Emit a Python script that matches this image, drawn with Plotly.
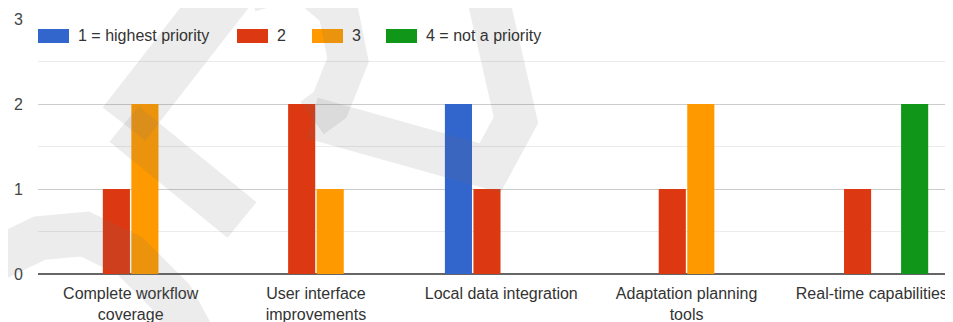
import plotly.graph_objects as go

categories = [
    'Complete workflow<br>coverage',
    'User interface<br>improvements',
    'Local data integration',
    'Adaptation planning<br>tools',
    'Real-time capabilities',
]
series_names = ['1 = highest priority', '2', '3', '4 = not a priority']
priority_1 = [0, 0, 2, 0, 0]
priority_2 = [1, 2, 1, 1, 1]
priority_3 = [2, 1, 0, 2, 0]
priority_4 = [0, 0, 0, 0, 2]
y_ticks = [0, 1, 2, 3]

colors = ['#3366cc', '#dc3912', '#ff9900', '#109618']
series_values = [priority_1, priority_2, priority_3, priority_4]

# page has an 8px body margin, so the figure is a bit smaller and shifted
OFF = 8
W, H = 945, 314
L, T, B = 30, 11, 48


def px(x, y):
    # page pixel position -> paper coords of the plot area
    x, y = x - OFF, y - OFF
    return (x - L) / (W - L), (H - B - y) / (H - B - T)


fig = go.Figure()
for name, vals, col in zip(series_names, series_values, colors):
    fig.add_trace(go.Bar(x=categories, y=vals, name=name, marker_color=col,
                         marker_line_width=0, showlegend=False))

shapes = []
annotations = []

# legend drawn by hand (google-style wide swatches)
legend_x = [38, 237, 312, 386]
for lx, name, col in zip(legend_x, series_names, colors):
    x0, y0 = px(lx, 29)
    x1, y1 = px(lx + 31, 43)
    shapes.append(dict(type='rect', xref='paper', yref='paper', x0=x0, x1=x1,
                       y0=y0, y1=y1, fillcolor=col, line_width=0, layer='above'))
    tx, ty = px(lx + 38, 36)
    annotations.append(dict(text=name, xref='paper', yref='paper', x=tx, y=ty,
                            xanchor='left', yanchor='middle', showarrow=False,
                            font=dict(size=16, color='#333')))


# faint watermark strokes over the chart
def stroke(points, width=46):
    pts = [px(x, y) for x, y in points]
    d = 'M {},{} '.format(*pts[0]) + ' '.join('L {},{}'.format(*p) for p in pts[1:])
    shapes.append(dict(type='path', path=d, xref='paper', yref='paper',
                       line=dict(color='rgba(110,110,110,0.13)', width=width),
                       layer='above'))


stroke([(240, -25), (124, 124)], 54)
stroke([(124, 124), (242, 220)], 46)
stroke([(250, -8), (300, -22), (338, 10), (348, 60), (330, 105), (312, 118)], 40)
stroke([(312, 118), (490, 168), (516, 120), (484, -20)], 42)
stroke([(-10, 262), (40, 238), (85, 234), (130, 256), (172, 298), (195, 340)], 44)

fig.update_layout(
    width=W, height=H,
    margin=dict(l=L, r=0, t=T, b=B),
    plot_bgcolor='white', paper_bgcolor='white',
    font=dict(family='Liberation Sans, Arial, sans-serif', size=16, color='#444'),
    barmode='group', bargap=0.384, bargroupgap=0.05,
    shapes=shapes, annotations=annotations,
    xaxis=dict(range=[-0.5, 4.438], showgrid=False, ticks='', showline=False,
               ticklabelstandoff=8, tickfont=dict(size=16, color='#333')),
    yaxis=dict(range=[0, 3], tickvals=y_ticks, gridcolor='#cccccc', gridwidth=1,
               zeroline=True, zerolinecolor='#666', zerolinewidth=2,
               ticks='', ticklabelstandoff=14, tickfont=dict(size=16, color='#444'),
               minor=dict(dtick=0.5, showgrid=True, gridcolor='#ebebeb')),
    showlegend=False,
)

fig.write_html('out.html')
